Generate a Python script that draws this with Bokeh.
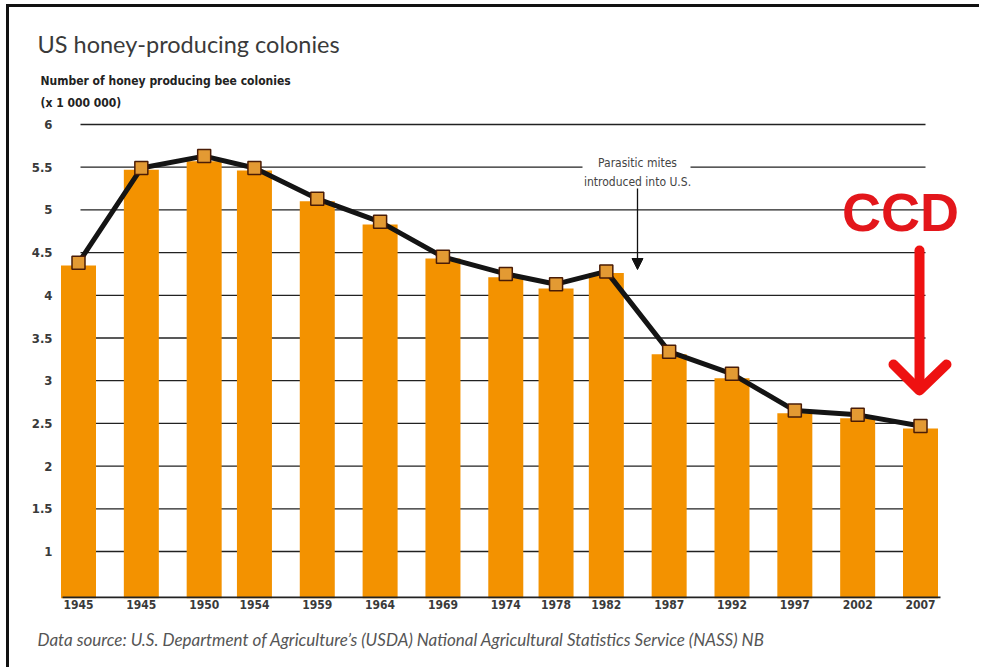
from bokeh.plotting import figure
from bokeh.models import Label, Arrow, NormalHead, FixedTicker, Range1d, Title
from bokeh.embed import file_html
from bokeh.resources import INLINE

# ---------------- data ----------------
year_labels = ["1945", "1945", "1950", "1954", "1959", "1964", "1969", "1974",
               "1978", "1982", "1987", "1992", "1997", "2002", "2007"]
x_pos = [1940, 1945, 1950, 1954, 1959, 1964, 1969, 1974,
         1978, 1982, 1987, 1992, 1997, 2002, 2007]
bar_values = [4.35, 5.47, 5.57, 5.46, 5.10, 4.83, 4.43, 4.21,
              4.08, 4.26, 3.31, 3.03, 2.62, 2.56, 2.44]
line_values = [4.38, 5.49, 5.63, 5.49, 5.13, 4.86, 4.45, 4.25,
               4.13, 4.28, 3.34, 3.08, 2.65, 2.60, 2.47]
y_ticks = [1, 1.5, 2, 2.5, 3, 3.5, 4, 4.5, 5, 5.5, 6]
y_tick_labels = ["1", "1.5", "2", "2.5", "3", "3.5", "4", "4.5", "5", "5.5", "6"]

# ---------------- layout (page pixels) ----------------
PAGE_W, PAGE_H = 982, 670
CANVAS_X0, CANVAS_Y0 = 9, 7          # canvas offset inside the page (after border)
W, H = PAGE_W - CANVAS_X0, PAGE_H - CANVAS_Y0
FR_L, FR_R, FR_T, FR_B = 60, 982, 118, 598   # frame in page px

# x scale: 1940 at px 78, 2007 at px 920
PX_X0, PX_X1 = 78, 920
XK = (PX_X1 - PX_X0) / (x_pos[-1] - x_pos[0])
# y scale: 6 at px 124, 1 at px 551
PX_Y6, PX_Y1 = 124, 551
YK = (PX_Y1 - PX_Y6) / 5.0


def X(px):
    return x_pos[0] + (px - PX_X0) / XK


def Y(py):
    return 6 - (py - PX_Y6) / YK


NARROW = "DejaVu Sans Condensed, Roboto, sans-serif"

p = figure(width=W, height=H, output_backend="svg", toolbar_location=None,
           x_range=Range1d(X(FR_L), X(FR_R)), y_range=Range1d(Y(FR_B), Y(FR_T)),
           min_border_left=FR_L - CANVAS_X0, min_border_right=0,
           min_border_top=FR_T - CANVAS_Y0, min_border_bottom=H - (FR_B - CANVAS_Y0))
p.styles = {"margin-left": "6px", "margin-top": "4px",
            "border-left": "3px solid #111", "border-top": "3px solid #111"}
p.outline_line_color = None
p.background_fill_color = "white"
p.border_fill_color = "white"
p.xgrid.visible = False
p.ygrid.visible = False

# gridlines drawn as segments (so they sit behind bars and have limited extent)
p.segment(x0=[X(80)] * len(y_ticks), x1=[X(925)] * len(y_ticks), y0=y_ticks, y1=y_ticks,
          line_color="#222222", line_width=1.3)

# white gap in the 5.5 line behind the annotation
p.quad(left=[X(582)], right=[X(690)], top=[Y(150)], bottom=[Y(192)],
       fill_color="white", line_color=None)

bar_w = 35 / XK
p.vbar(x=x_pos, top=bar_values, bottom=0, width=bar_w, fill_color="#f39200", line_color=None)
# x axis baseline
p.segment(x0=[X(62)], x1=[X(940)], y0=[Y(597)], y1=[Y(597)], line_color="#222222", line_width=2)

p.line(x_pos, line_values, line_color="#141414", line_width=5, line_join="round")
p.scatter(x_pos, line_values, marker="square", size=13, fill_color="#e39a33",
          line_color="#4a1c06", line_width=1.5)

# axes
ya = p.yaxis[0]
ya.ticker = FixedTicker(ticks=y_ticks)
ya.major_label_overrides = {t: s for t, s in zip(y_ticks, y_tick_labels)}
ya.axis_line_color = None
ya.major_tick_line_color = None
ya.minor_tick_line_color = None
ya.major_tick_out = 0
ya.major_tick_in = 0
ya.major_label_standoff = 8
ya.major_label_text_font = NARROW
ya.major_label_text_font_size = "13px"
ya.major_label_text_font_style = "bold"
ya.major_label_text_color = "#3a3a3a"

xa = p.xaxis[0]
xa.ticker = FixedTicker(ticks=x_pos)
xa.major_label_overrides = {t: s for t, s in zip(x_pos, year_labels)}
xa.axis_line_color = None
xa.major_tick_line_color = None
xa.minor_tick_line_color = None
xa.major_tick_out = 0
xa.major_tick_in = 0
xa.major_label_standoff = 1
xa.major_label_text_font = NARROW
xa.major_label_text_font_size = "12px"
xa.major_label_text_font_style = "bold"
xa.major_label_text_color = "#3a3a3a"

# titles (outside the frame)
p.add_layout(Title(text="(x 1 000 000)", align="left", offset=40 - FR_L, standoff=18,
                   text_font=NARROW, text_font_size="12px", text_font_style="bold",
                   text_color="#222222"), "above")
p.add_layout(Title(text="Number of honey producing bee colonies", align="left",
                   offset=40 - FR_L, standoff=-6,
                   text_font=NARROW, text_font_size="12px", text_font_style="bold",
                   text_color="#222222"), "above")
p.add_layout(Title(text="US honey-producing colonies", align="left", offset=37 - FR_L,
                   standoff=34, text_font="Lato", text_font_size="23.5px",
                   text_font_style="normal", text_color="#3a3a3a"), "above")
p.add_layout(Title(text="Data source: U.S. Department of Agriculture\u2019s (USDA) National "
                        "Agricultural Statistics Service (NASS) NB",
                   align="left", offset=37 - FR_L, standoff=30,
                   text_font="Lato", text_font_size="17px", text_font_style="italic",
                   text_color="#555555"), "below")

# parasitic mites annotation
p.add_layout(Label(x=X(637), y=Y(162), text="Parasitic mites",
                   text_font=NARROW, text_font_size="12px",
                   text_color="#444444", text_baseline="middle", text_align="center"))
p.add_layout(Label(x=X(637), y=Y(181), text="introduced into U.S.",
                   text_font=NARROW, text_font_size="12px",
                   text_color="#444444", text_baseline="middle", text_align="center"))
p.add_layout(Arrow(x_start=X(637), y_start=Y(188), x_end=X(637), y_end=Y(269),
                   line_color="#111111", line_width=1.3,
                   end=NormalHead(size=11, fill_color="#111111", line_color="#111111")))

# CCD annotation
p.add_layout(Label(x=X(900), y=Y(211), text="CCD", text_font="Liberation Sans",
                   text_font_size="54px", text_font_style="bold", text_color="#e3161b",
                   text_baseline="middle", text_align="center"))
p.multi_line(xs=[[X(919), X(919)], [X(893), X(919), X(946)]],
             ys=[[Y(250), Y(388)], [Y(364), Y(390), Y(364)]],
             line_color="#ee1111", line_width=10, line_cap="round", line_join="round")

open("out.html", "w").write(file_html(p, INLINE))
